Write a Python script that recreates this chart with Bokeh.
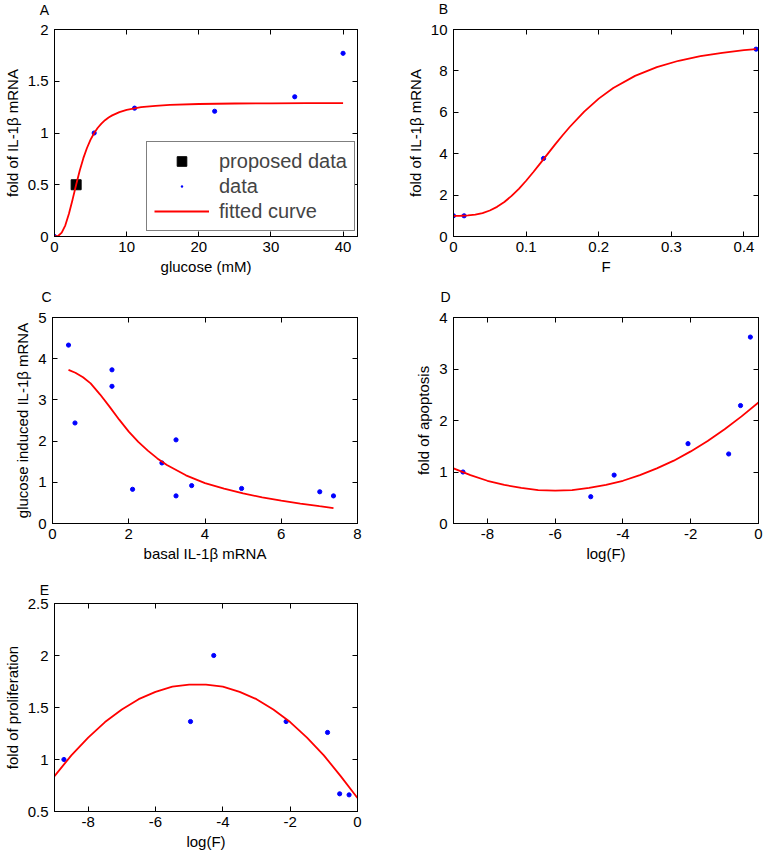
from bokeh.plotting import figure
from bokeh.layouts import column, row
from bokeh.models import (LinearAxis, FixedTicker, Range1d, Legend, LegendItem, Label)
from bokeh.embed import file_html
from bokeh.resources import INLINE

FONT = "Liberation Sans"
RED = "#ff0000"
BLUE = "#0000ff"

# ---------------- data ----------------
# Panel A
a_glucose = [0, 5.5, 11.1, 22.2, 33.3, 40]
a_fold = [0.0, 1.0, 1.24, 1.21, 1.35, 1.77]
a_prop_glucose = [3]
a_prop_fold = [0.5]
a_fit_glucose = [0, 0.5, 1, 1.5, 2, 2.5, 3, 3.5, 4, 4.5, 5, 5.5, 6, 6.5, 7, 7.5, 8, 9, 10,
                 12, 14, 16, 20, 25, 30, 35, 40]
a_fit_fold = [0.0, 0.005, 0.037, 0.108, 0.219, 0.356, 0.50, 0.637, 0.757, 0.855, 0.936, 1.0,
              1.051, 1.091, 1.124, 1.150, 1.170, 1.202, 1.223, 1.249, 1.263, 1.271, 1.280,
              1.285, 1.287, 1.288, 1.288]
a_xticks = [0, 10, 20, 30, 40]
a_xlabels = ["0", "10", "20", "30", "40"]
a_yticks = [0, 0.5, 1, 1.5, 2]
a_ylabels = ["0", "0.5", "1", "1.5", "2"]

# Panel B
b_F = [0, 0.0146, 0.124, 0.4167]
b_fold = [1.0, 1.0, 3.77, 9.05]
b_fit_F = [0, 0.01, 0.02, 0.03, 0.04, 0.05, 0.06, 0.07, 0.08, 0.09, 0.10, 0.11, 0.12, 0.13,
           0.14, 0.15, 0.16, 0.18, 0.20, 0.22, 0.25, 0.28, 0.31, 0.34, 0.37, 0.40, 0.4167]
b_fit_fold = [1.0, 1.002, 1.017, 1.057, 1.133, 1.256, 1.433, 1.668, 1.961, 2.305, 2.693, 3.114,
              3.556, 4.004, 4.448, 4.88, 5.29, 6.03, 6.66, 7.17, 7.76, 8.18, 8.49, 8.71, 8.875,
              9.0, 9.05]
b_xticks = [0, 0.1, 0.2, 0.3, 0.4]
b_xlabels = ["0", "0.1", "0.2", "0.3", "0.4"]
b_yticks = [0, 2, 4, 6, 8, 10]
b_ylabels = ["0", "2", "4", "6", "8", "10"]

# Panel C
c_basal = [0.42, 0.59, 1.56, 1.56, 2.10, 2.87, 3.24, 3.24, 3.65, 4.96, 7.01, 7.37]
c_induced = [4.33, 2.44, 3.73, 3.33, 0.83, 1.47, 2.03, 0.67, 0.92, 0.85, 0.77, 0.67]
c_fit_basal = [0.42, 0.6, 0.8, 1.0, 1.25, 1.5, 1.75, 2.0, 2.25, 2.5, 2.75, 3.0, 3.5, 4.0, 4.5,
               5.0, 5.5, 6.0, 6.5, 7.0, 7.37]
c_fit_induced = [3.73, 3.66, 3.55, 3.40, 3.13, 2.83, 2.52, 2.23, 1.98, 1.77, 1.58, 1.42, 1.17,
                 0.98, 0.845, 0.73, 0.635, 0.555, 0.485, 0.42, 0.375]
c_xticks = [0, 2, 4, 6, 8]
c_xlabels = ["0", "2", "4", "6", "8"]
c_yticks = [0, 1, 2, 3, 4, 5]
c_ylabels = ["0", "1", "2", "3", "4", "5"]

# Panel D
d_logF = [-8.72, -4.95, -4.26, -2.08, -0.88, -0.53, -0.24]
d_apop = [1.0, 0.52, 0.94, 1.55, 1.35, 2.29, 3.62]
d_fit_logF = [-9, -8.5, -8, -7.5, -7, -6.5, -6, -5.5, -5, -4.5, -4, -3.5, -3, -2.5, -2, -1.5,
              -1, -0.5, 0]
d_fit_apop = [1.07, 0.94, 0.83, 0.75, 0.69, 0.65, 0.64, 0.65, 0.69, 0.75, 0.83, 0.94, 1.07,
              1.22, 1.40, 1.60, 1.83, 2.08, 2.35]
d_xticks = [-8, -6, -4, -2, 0]
d_xlabels = ["-8", "-6", "-4", "-2", "0"]
d_yticks = [0, 1, 2, 3, 4]
d_ylabels = ["0", "1", "2", "3", "4"]

# Panel E
e_logF = [-8.72, -4.96, -4.27, -2.12, -0.89, -0.53, -0.25]
e_prolif = [1.0, 1.365, 2.0, 1.365, 1.26, 0.67, 0.66]
e_fit_logF = [-9, -8.5, -8, -7.5, -7, -6.5, -6, -5.5, -5, -4.5, -4, -3.5, -3, -2.5, -2, -1.5,
              -1, -0.5, 0]
e_fit_prolif = [0.84, 1.04, 1.21, 1.36, 1.48, 1.58, 1.65, 1.70, 1.72, 1.72, 1.70, 1.65, 1.58,
                1.48, 1.36, 1.21, 1.04, 0.84, 0.63]
e_xticks = [-8, -6, -4, -2, 0]
e_xlabels = ["-8", "-6", "-4", "-2", "0"]
e_yticks = [0.5, 1, 1.5, 2, 2.5]
e_ylabels = ["0.5", "1", "1.5", "2", "2.5"]

TICK_FS = "15px"
LABEL_FS = "15px"


def style_axis(ax, ticks, labels, is_y):
    ax.ticker = FixedTicker(ticks=ticks)
    ax.major_label_overrides = dict(zip(ticks, labels))
    ax.major_tick_in = 5
    ax.major_tick_out = 0
    ax.minor_tick_line_color = None
    ax.axis_line_color = "black"
    ax.major_tick_line_color = "black"
    ax.major_label_text_font = FONT
    ax.major_label_text_font_size = TICK_FS
    ax.major_label_text_color = "black"
    ax.axis_label_text_font = FONT
    ax.axis_label_text_font_size = LABEL_FS
    ax.axis_label_text_font_style = "normal"
    ax.axis_label_text_color = "black"
    if is_y:
        ax.major_label_standoff = 6
        ax.axis_label_standoff = 4
    else:
        ax.major_label_standoff = 5
        ax.axis_label_standoff = 3


def mirror_axis(ticks):
    return LinearAxis(ticker=FixedTicker(ticks=ticks),
                      major_label_overrides={t: "" for t in ticks},
                      major_label_text_color=None, major_label_text_font_size="0px",
                      major_label_standoff=0, major_tick_in=5, major_tick_out=0,
                      minor_tick_line_color=None, axis_line_color="black",
                      major_tick_line_color="black")


def panel(width, height, borders, xr, yr, xt, xl, yt, yl, xlabel, ylabel, letter, lx, ly):
    bl, br, bt, bb = borders
    p = figure(width=width, height=height, output_backend="svg", toolbar_location=None,
               x_range=Range1d(*xr), y_range=Range1d(*yr), title=None,
               min_border_left=bl, min_border_right=br, min_border_top=bt,
               min_border_bottom=bb, x_axis_label=xlabel, y_axis_label=ylabel)
    p.grid.visible = False
    p.outline_line_color = "black"
    p.outline_line_alpha = 1
    p.background_fill_color = "white"
    p.border_fill_color = "white"
    style_axis(p.xaxis[0], xt, xl, False)
    style_axis(p.yaxis[0], yt, yl, True)
    p.add_layout(mirror_axis(yt), "right")
    p.add_layout(mirror_axis(xt), "above")
    p.add_layout(Label(x=lx, y=ly, x_units="screen", y_units="screen", text=letter,
                       text_font=FONT, text_font_size="14px", text_align="center",
                       text_baseline="middle", text_color="black"), "above")
    return p


# Panel A
pA = panel(380, 288, (52, 23, 29, 51), (0, 42), (0, 2), a_xticks, a_xlabels, a_yticks,
           a_ylabels, "glucose (mM)", "fold of IL-1β mRNA", "A", -10, 19.5)
rA_sq = pA.scatter(a_prop_glucose, a_prop_fold, marker="square", size=10, color="black")
rA_dot = pA.scatter(a_glucose, a_fold, marker="circle", size=4.2, color=BLUE)
rA_line = pA.line(a_fit_glucose, a_fit_fold, line_color=RED, line_width=1.8)
rA_proxy = pA.scatter([float("nan")], [float("nan")], marker="dot", size=10, color=BLUE)
legend = Legend(items=[LegendItem(label="proposed data", renderers=[rA_sq]),
                       LegendItem(label="data", renderers=[rA_proxy]),
                       LegendItem(label="fitted curve", renderers=[rA_line])],
                location=(92, 5), border_line_color="black", border_line_width=1,
                background_fill_alpha=1, padding=7, spacing=1, glyph_width=55,
                glyph_height=24, label_height=24, label_standoff=10, margin=0,
                label_text_font=FONT, label_text_font_size="20px")
pA.add_layout(legend)

# Panel B
pB = panel(385, 288, (73, 7, 29, 52), (0, 0.42), (0, 10), b_xticks, b_xlabels, b_yticks,
           b_ylabels, "F", "fold of IL-1β mRNA", "B", -10, 20.5)
pB.scatter(b_F, b_fold, marker="circle", size=4.2, color=BLUE)
pB.line(b_fit_F, b_fit_fold, line_color=RED, line_width=1.8)

# Panel C
pC = panel(380, 280, (52, 23, 29, 45), (0, 8), (0, 5), c_xticks, c_xlabels, c_yticks,
           c_ylabels, "basal IL-1β mRNA", "glucose induced IL-1β mRNA", "C", -6, 21)
pC.scatter(c_basal, c_induced, marker="circle", size=4.2, color=BLUE)
pC.line(c_fit_basal, c_fit_induced, line_color=RED, line_width=1.8)

# Panel D
pD = panel(385, 280, (73, 7, 29, 45), (-9, 0), (0, 4), d_xticks, d_xlabels, d_yticks,
           d_ylabels, "log(F)", "fold of apoptosis", "D", -8, 21)
pD.scatter(d_logF, d_apop, marker="circle", size=4.2, color=BLUE)
pD.line(d_fit_logF, d_fit_apop, line_color=RED, line_width=1.8)

# Panel E
pE = panel(380, 289, (52, 23, 35, 46), (-9, 0), (0.5, 2.5), e_xticks, e_xlabels, e_yticks,
           e_ylabels, "log(F)", "fold of proliferation", "E", -10, 14)
pE.scatter(e_logF, e_prolif, marker="circle", size=4.2, color=BLUE)
pE.line(e_fit_logF, e_fit_prolif, line_color=RED, line_width=1.8)

layout = column(row(pA, pB), row(pC, pD), row(pE))
open("out.html", "w").write(file_html(layout, INLINE))
